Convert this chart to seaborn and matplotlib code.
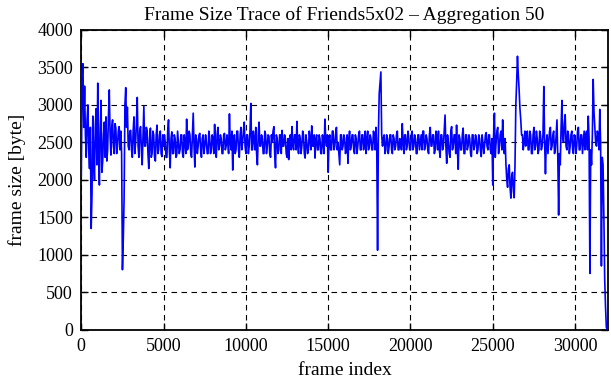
import numpy as np
import pandas as pd
import matplotlib
matplotlib.use("Agg")
import matplotlib.pyplot as plt
import seaborn as sns

title = "Frame Size Trace of Friends5x02 \u2013 Aggregation 50"
x_label = "frame index"
y_label = "frame size [byte]"
x_ticks = [0, 5000, 10000, 15000, 20000, 25000, 30000]
y_ticks = [0, 500, 1000, 1500, 2000, 2500, 3000, 3500, 4000]
agg = 50

# aggregated frame sizes at frames 0, 100, 200, ...
sizes_even = [
    2050, 3550, 3250, 2300, 3000, 2150, 1350, 2850, 2000, 2950,
    3290, 1930, 3060, 2250, 2770, 2840, 2400, 3200, 2330, 2800,
    2350, 2690, 2450, 2710, 2650, 800, 1750, 3230, 2970, 2400,
    2660, 2300, 2840, 2500, 3100, 2300, 2710, 2200, 2980, 2450,
    2660, 2150, 2690, 2350, 2600, 2250, 2730, 2400, 2650, 2310,
    2450, 2500, 2300, 2800, 2160, 2640, 2350, 2550, 2330, 2500,
    2400, 2600, 2300, 2500, 2810, 2450, 2600, 2300, 2890, 2170,
    2550, 2450, 2620, 2300, 2600, 2450, 2500, 2350, 2560, 2400,
    2550, 2740, 2300, 2700, 2450, 2550, 2350, 2620, 2450, 2500,
    2880, 2400, 2130, 2600, 2400, 2650, 2300, 2700, 2500, 2770,
    2350, 2600, 2450, 3020, 2400, 2550, 2700, 2200, 2770, 2450,
    2550, 2350, 2600, 2450, 2580, 2300, 2500, 2710, 2160, 2550,
    2400, 2600, 2660, 2450, 2550, 2300, 2270, 2600, 2710, 2400,
    2600, 2780, 2350, 2550, 2450, 2600, 2290, 2500, 2400, 2550,
    2720, 2450, 2290, 2600, 2400, 2550, 2350, 2500, 2810, 2450,
    2100, 2600, 2400, 2650, 2450, 2700, 2500, 2200, 2600, 2450,
    2550, 2400, 2220, 2650, 2450, 2600, 2350, 2550, 2450, 2650,
    2400, 2600, 2500, 2350, 2650, 2450, 2550, 2400, 2600, 2700,
    1060, 3150, 3440, 2450, 2600, 2400, 2550, 2450, 2600, 2350,
    2550, 2450, 2650, 2400, 2500, 2750, 2350, 2600, 2450, 2550,
    2400, 2650, 2450, 2550, 2350, 2600, 2500, 2400, 2650, 2450,
    2550, 2350, 2700, 2450, 2600, 2400, 2550, 2650, 2300, 2600,
    2450, 2865, 2220, 2500, 2300, 2710, 2450, 2600, 2730, 2140,
    2550, 2400, 2690, 2350, 2600, 2450, 2550, 2310, 2600, 2450,
    2550, 2400, 2550, 2310, 2500, 2450, 2630, 2400, 2600, 2350,
    1930, 2890, 2500, 2700, 2450, 2650, 2800, 2350, 2200, 1900,
    2200, 1755, 2100, 1760, 3000, 3650, 3200, 2800, 2600, 2500,
    2450, 2650, 2400, 2600, 2350, 2700, 2450, 2550, 2400, 2600,
    2450, 3245, 2080, 2600, 2500, 2700, 2450, 2650, 2400, 2800,
    1530, 2200, 3060, 2500, 2870, 2400, 2600, 2450, 2650, 2350,
    2550, 2450, 2700, 2400, 2600, 2500, 2400, 2650, 2850, 750,
    2200, 3340, 2690, 2450, 2600, 2940, 850, 2200, 670, 30,
]
# aggregated frame sizes at frames 50, 150, 250, ...
sizes_odd = [
    3400, 2700, 2600, 2800, 2400, 2700, 1800, 2300, 2700, 2200,
    2300, 2700, 2100, 2600, 2300, 2250, 2850, 2600, 2700, 2450,
    2750, 2350, 2650, 2400, 2350, 1200, 3000, 2700, 2450, 2650,
    2400, 2650, 2350, 2750, 2450, 2650, 2400, 2600, 2450, 2700,
    2350, 2550, 2300, 2650, 2300, 2600, 2350, 2600, 2350, 2600,
    2600, 2300, 2650, 2400, 2550, 2350, 2600, 2300, 2650, 2350,
    2600, 2350, 2600, 2350, 2400, 2650, 2350, 2600, 2450, 2600,
    2350, 2600, 2400, 2550, 2350, 2600, 2350, 2650, 2350, 2600,
    2350, 2450, 2600, 2400, 2600, 2350, 2600, 2400, 2600, 2350,
    2500, 2650, 2500, 2350, 2650, 2400, 2600, 2400, 2650, 2450,
    2600, 2350, 2650, 2400, 2650, 2400, 2350, 2600, 2450, 2600,
    2350, 2650, 2350, 2600, 2350, 2600, 2650, 2350, 2600, 2350,
    2600, 2350, 2450, 2600, 2350, 2550, 2550, 2400, 2450, 2600,
    2400, 2450, 2600, 2350, 2650, 2350, 2600, 2350, 2650, 2400,
    2450, 2600, 2550, 2400, 2600, 2350, 2600, 2350, 2550, 2600,
    2550, 2400, 2650, 2400, 2600, 2400, 2350, 2600, 2400, 2600,
    2350, 2600, 2550, 2400, 2600, 2400, 2600, 2350, 2600, 2400,
    2600, 2400, 2650, 2550, 2400, 2600, 2400, 2650, 2400, 2450,
    2600, 3300, 2600, 2550, 2350, 2600, 2350, 2600, 2400, 2600,
    2400, 2600, 2400, 2550, 2400, 2500, 2600, 2400, 2650, 2400,
    2600, 2400, 2600, 2350, 2600, 2400, 2600, 2650, 2400, 2600,
    2400, 2600, 2450, 2600, 2350, 2650, 2400, 2400, 2600, 2400,
    2650, 2450, 2600, 2350, 2650, 2400, 2600, 2350, 2400, 2600,
    2400, 2600, 2350, 2600, 2400, 2600, 2350, 2600, 2400, 2600,
    2350, 2600, 2400, 2600, 2350, 2600, 2450, 2600, 2400, 2550,
    2600, 2300, 2650, 2350, 2600, 2400, 2500, 2550, 2000, 2150,
    1900, 2050, 1850, 2200, 3300, 3400, 2950, 2600, 2400, 2650,
    2600, 2400, 2650, 2350, 2600, 2400, 2650, 2350, 2650, 2400,
    2600, 2500, 2500, 2350, 2650, 2400, 2600, 2350, 2600, 2300,
    2350, 2700, 2550, 2750, 2450, 2650, 2350, 2600, 2400, 2600,
    2350, 2650, 2400, 2600, 2350, 2650, 2600, 2400, 2550, 2400,
    2600, 2900, 2500, 2650, 2400, 2500, 2300, 1500, 300, 0,
]

frames_even = [2 * agg * i for i in range(len(sizes_even))]
frames_odd = [2 * agg * i + agg for i in range(len(sizes_odd))]
df = pd.DataFrame({"frame": frames_even + frames_odd,
                   "size": sizes_even + sizes_odd}).sort_values("frame")

sns.set_theme(style="white")
plt.rcParams["font.family"] = ["Liberation Serif", "DejaVu Serif"]

fig = plt.figure(figsize=(6.11, 3.80), dpi=100)
ax = fig.add_axes([81.3 / 611, 1 - 329.6 / 380, (608 - 81.3) / 611, (329.6 - 30) / 380])

sns.lineplot(data=df, x="frame", y="size", ax=ax, color="#0000ff", linewidth=1.2,
             estimator=None, sort=False, zorder=3)

ax.set_xlim(0, 32000)
ax.set_ylim(0, 4000)
ax.set_xticks(x_ticks)
ax.set_yticks(y_ticks)
ax.set_xticklabels([str(t) for t in x_ticks])
ax.set_yticklabels([str(t) for t in y_ticks])
ax.grid(True, color="black", linestyle=(0, (5, 4)), linewidth=0.8, zorder=1)
for s in ax.spines.values():
    s.set_visible(True)
    s.set_color("black")
    s.set_linewidth(1.3)
ax.tick_params(direction="in", length=5, width=1.0, colors="black",
               top=True, right=True, bottom=True, left=True,
               labelsize=13, pad=6)
ax.set_title(title, fontsize=14, color="black", pad=7)
ax.set_xlabel(x_label, fontsize=14, color="black", labelpad=5)
ax.set_ylabel(y_label, fontsize=14, color="black", labelpad=8)

fig.savefig("out.png", dpi=100, facecolor="white")
